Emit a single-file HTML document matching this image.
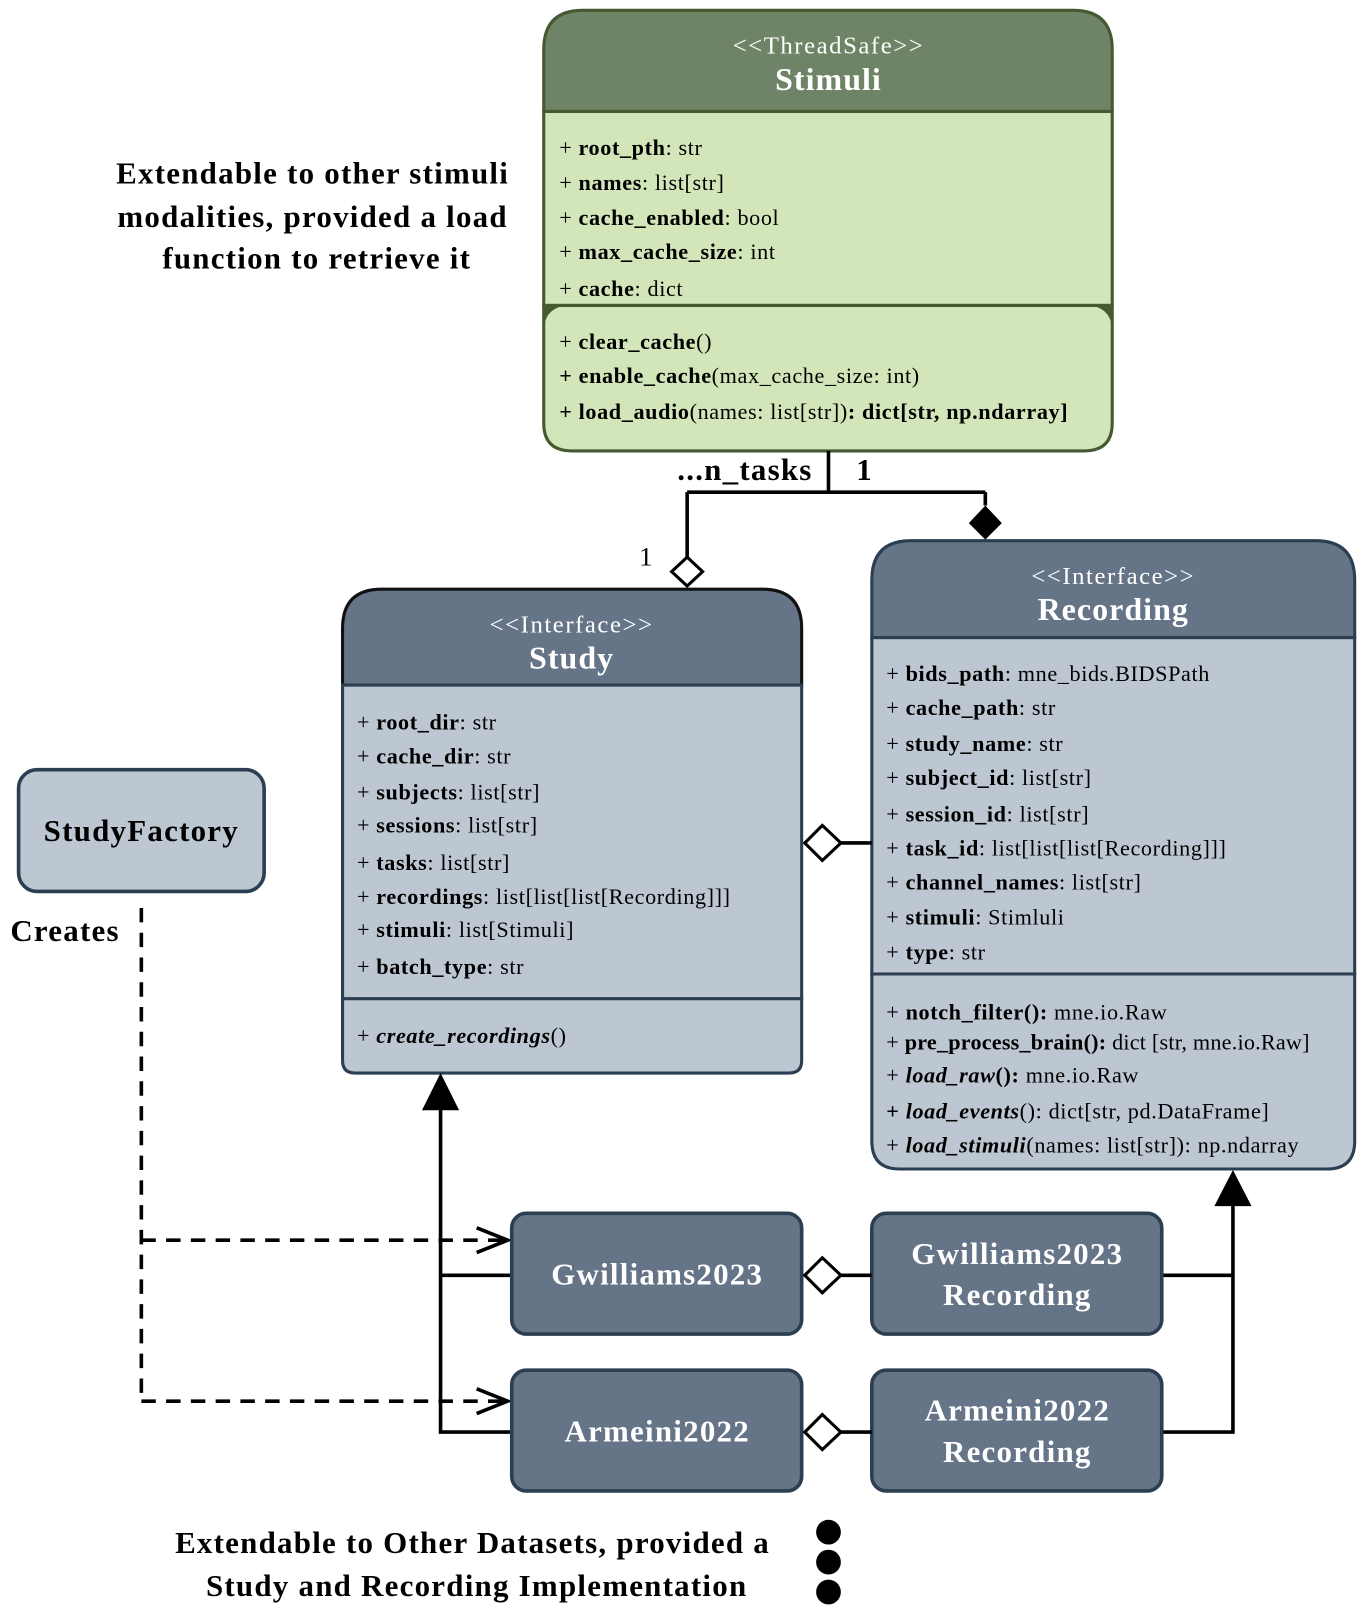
<!DOCTYPE html>
<html><head><meta charset="utf-8"><style>
html,body{margin:0;padding:0;background:#fff;}
svg{display:block;}
text{font-family:"Liberation Serif",serif;}
.a{font-size:21.5px;fill:#000;letter-spacing:0.6px;}
.b{font-weight:bold;}
.h{fill:#fff;text-anchor:middle;}
.st{font-size:24px;letter-spacing:1.5px;}
.tt{font-size:31px;font-weight:bold;letter-spacing:1px;}
.big{font-size:30px;font-weight:bold;letter-spacing:1.2px;}
</style></head><body>
<svg width="1365" height="1623" viewBox="0 0 1323 1573" xmlns="http://www.w3.org/2000/svg">
<!-- Stimuli -->
<path d="M527,108 V48 Q527,10 565,10 H1040 Q1078,10 1078,48 V108 Z" fill="#6f8466" stroke="#455a30" stroke-width="3"/>
<rect x="527" y="108" width="551" height="188" fill="#d2e6b9" stroke="#455a30" stroke-width="3"/>
<path d="M527,296 H1078 V410 Q1078,437 1051,437 H554 Q527,437 527,410 Z" fill="#d2e6b9" stroke="#455a30" stroke-width="3"/>
<path d="M527,296 H1078 V322 Q1078,296 1051,296 H554 Q527,296 527,322 Z" fill="#455a30"/>
<text x="803" y="52" class="h st">&lt;&lt;ThreadSafe&gt;&gt;</text>
<text x="803" y="87" class="h tt">Stimuli</text>
<g class="a">
<text x="542" y="150">+ <tspan class="b">root_pth</tspan>: str</text>
<text x="542" y="184">+ <tspan class="b">names</tspan>: list[str]</text>
<text x="542" y="218">+ <tspan class="b">cache_enabled</tspan>: bool</text>
<text x="542" y="251">+ <tspan class="b">max_cache_size</tspan>: int</text>
<text x="542" y="287">+ <tspan class="b">cache</tspan>: dict</text>
<text x="542" y="338">+ <tspan class="b">clear_cache</tspan>()</text>
<text x="542" y="371"><tspan class="b">+ enable_cache</tspan>(max_cache_size: int)</text>
<text x="542" y="406"><tspan class="b">+ load_audio</tspan>(names: list[str])<tspan class="b">: dict[str, np.ndarray]</tspan></text>
</g>
<!-- left annotation -->
<g class="big" text-anchor="middle">
<text x="303" y="178">Extendable to other stimuli</text>
<text x="303" y="220">modalities, provided a load</text>
<text x="307" y="260">function to retrieve it</text>
</g>
<!-- connectors top -->
<path d="M803,437 V477 M666,477 H955 M666,477 V540 M955,477 V490" stroke="#000" stroke-width="3.5" fill="none"/>
<path d="M666,540 L681,554 L666,568 L651,554 Z" fill="#fff" stroke="#000" stroke-width="3"/>
<path d="M955,490 L971,507 L955,523 L939,507 Z" fill="#000"/>
<text x="722" y="465" class="big" text-anchor="middle" font-size="28">...n_tasks</text>
<text x="838" y="465" class="big" text-anchor="middle" font-size="28">1</text>
<text x="626" y="548" font-size="26" text-anchor="middle">1</text>
<!-- Study -->
<path d="M332,664 V609 Q332,571 370,571 H739 Q777,571 777,609 V664 Z" fill="#667487" stroke="#111" stroke-width="3"/>
<rect x="332" y="664" width="445" height="304" fill="#bdc7d1" stroke="#2c3e52" stroke-width="3"/>
<path d="M332,968 H777 V1028 Q777,1040 765,1040 H344 Q332,1040 332,1028 Z" fill="#bdc7d1" stroke="#2c3e52" stroke-width="3"/>
<text x="554" y="613" class="h st">&lt;&lt;Interface&gt;&gt;</text>
<text x="554" y="648" class="h tt">Study</text>
<g class="a">
<text x="346" y="707">+ <tspan class="b">root_dir</tspan>: str</text>
<text x="346" y="740">+ <tspan class="b">cache_dir</tspan>: str</text>
<text x="346" y="775">+ <tspan class="b">subjects</tspan>: list[str]</text>
<text x="346" y="807">+ <tspan class="b">sessions</tspan>: list[str]</text>
<text x="346" y="843">+ <tspan class="b">tasks</tspan>: list[str]</text>
<text x="346" y="876">+ <tspan class="b">recordings</tspan>: list[list[list[Recording]]]</text>
<text x="346" y="908">+ <tspan class="b">stimuli</tspan>: list[Stimuli]</text>
<text x="346" y="944">+ <tspan class="b">batch_type</tspan>: str</text>
<text x="346" y="1011">+ <tspan class="b" font-style="italic">create_recordings</tspan>()</text>
</g>
<!-- Recording -->
<path d="M845,618 V562 Q845,524 883,524 H1275 Q1313,524 1313,562 V618 Z" fill="#667487" stroke="#2c3e52" stroke-width="3"/>
<rect x="845" y="618" width="468" height="326" fill="#bdc7d1" stroke="#2c3e52" stroke-width="3"/>
<path d="M845,944 H1313 V1106 Q1313,1133 1286,1133 H872 Q845,1133 845,1106 Z" fill="#bdc7d1" stroke="#2c3e52" stroke-width="3"/>
<text x="1079" y="566" class="h st">&lt;&lt;Interface&gt;&gt;</text>
<text x="1079" y="601" class="h tt">Recording</text>
<g class="a">
<text x="859" y="660">+ <tspan class="b">bids_path</tspan>: mne_bids.BIDSPath</text>
<text x="859" y="693">+ <tspan class="b">cache_path</tspan>: str</text>
<text x="859" y="728">+ <tspan class="b">study_name</tspan>: str</text>
<text x="859" y="761">+ <tspan class="b">subject_id</tspan>: list[str]</text>
<text x="859" y="796">+ <tspan class="b">session_id</tspan>: list[str]</text>
<text x="859" y="829">+ <tspan class="b">task_id</tspan>: list[list[list[Recording]]]</text>
<text x="859" y="862">+ <tspan class="b">channel_names</tspan>: list[str]</text>
<text x="859" y="896">+ <tspan class="b">stimuli</tspan>: Stimluli</text>
<text x="859" y="930">+ <tspan class="b">type</tspan>: str</text>
<text x="859" y="988">+ <tspan class="b">notch_filter():</tspan> mne.io.Raw</text>
<text x="859" y="1017" letter-spacing="0.2">+ <tspan class="b">pre_process_brain():</tspan> dict [str, mne.io.Raw]</text>
<text x="859" y="1049">+ <tspan class="b"><tspan font-style="italic">load_raw</tspan>():</tspan> mne.io.Raw</text>
<text x="859" y="1084"><tspan class="b">+ <tspan font-style="italic">load_events</tspan></tspan>(): dict[str, pd.DataFrame]</text>
<text x="859" y="1117">+ <tspan class="b" font-style="italic">load_stimuli</tspan>(names: list[str]): np.ndarray</text>
</g>
<!-- study-recording diamond -->
<path d="M815,817 H845" stroke="#000" stroke-width="3.5"/>
<path d="M780,817 L797,800 L815,817 L797,834 Z" fill="#fff" stroke="#000" stroke-width="3"/>
<!-- StudyFactory -->
<rect x="18" y="746" width="238" height="118" rx="18" fill="#bdc7d1" stroke="#2c3e52" stroke-width="3.5"/>
<text x="137" y="815" class="big" text-anchor="middle">StudyFactory</text>
<text x="10" y="912" class="big">Creates</text>
<!-- dashed -->
<path d="M137,880 V1358 M137,1202 H490 M137,1358 H490" stroke="#000" stroke-width="3.5" fill="none" stroke-dasharray="14,10"/>
<path d="M462,1190 L492,1202 L462,1214 M462,1346 L492,1358 L462,1370" stroke="#000" stroke-width="3.5" fill="none"/>
<!-- generalization left -->
<path d="M427,1070 V1388 H496 M427,1236 H496" stroke="#000" stroke-width="3.5" fill="none"/>
<path d="M427,1040 L445,1076 L409,1076 Z" fill="#000"/>
<!-- generalization right -->
<path d="M1195,1163 V1388 H1126 M1195,1236 H1126" stroke="#000" stroke-width="3.5" fill="none"/>
<path d="M1195,1134 L1213,1169 L1177,1169 Z" fill="#000"/>
<!-- impl boxes -->
<g fill="#667487" stroke="#2c3e52" stroke-width="3.5">
<rect x="496" y="1176" width="281" height="117" rx="14"/>
<rect x="496" y="1328" width="281" height="117" rx="14"/>
<rect x="845" y="1176" width="281" height="117" rx="14"/>
<rect x="845" y="1328" width="281" height="117" rx="14"/>
</g>
<g class="big h">
<text x="637" y="1245">Gwilliams2023</text>
<text x="637" y="1397">Armeini2022</text>
<text x="986" y="1225">Gwilliams2023</text>
<text x="986" y="1265">Recording</text>
<text x="986" y="1377">Armeini2022</text>
<text x="986" y="1417">Recording</text>
</g>
<path d="M815,1236 H845 M815,1388 H845" stroke="#000" stroke-width="3.5"/>
<path d="M780,1236 L797,1219 L815,1236 L797,1253 Z M780,1388 L797,1371 L815,1388 L797,1405 Z" fill="#fff" stroke="#000" stroke-width="3"/>
<!-- bottom -->
<g class="big" text-anchor="middle">
<text x="458" y="1505">Extendable to Other Datasets, provided a</text>
<text x="462" y="1547">Study and Recording Implementation</text>
</g>
<circle cx="803" cy="1485" r="12"/>
<circle cx="803" cy="1514" r="12"/>
<circle cx="803" cy="1543" r="12"/>
</svg>
</body></html>
